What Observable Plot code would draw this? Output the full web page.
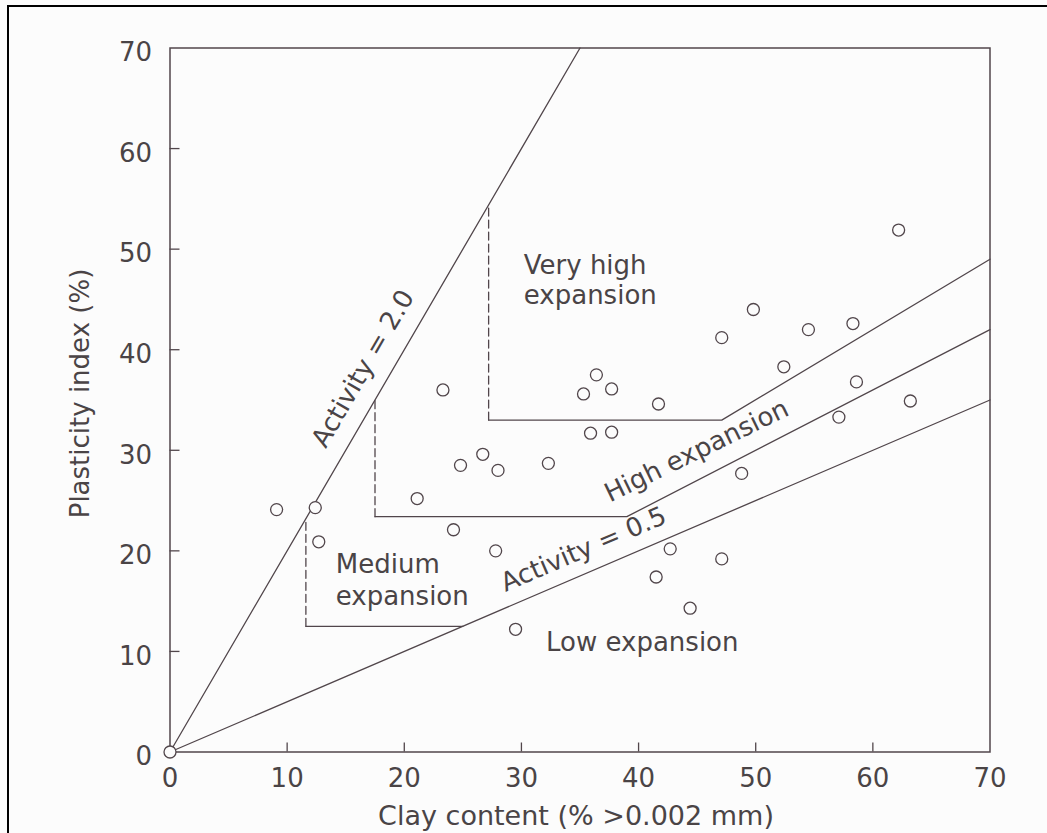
<!DOCTYPE html>
<html>
<head>
<meta charset="utf-8">
<script src="https://cdn.jsdelivr.net/npm/d3@7"></script>
<script src="https://cdn.jsdelivr.net/npm/@observablehq/plot@0.6"></script>
<style>
  html, body { margin: 0; padding: 0; background: #fcfcfc; overflow: hidden; width: 1047px; height: 833px; }
  #page { position: relative; width: 1047px; height: 833px; }
  #chart { position: absolute; left: 0; top: 0; }
  #border { position: absolute; left: 7px; top: 5px; width: 1200px; height: 1000px; border: 2.5px solid #000; pointer-events: none; }
</style>
</head>
<body>
<div id="page"><div id="chart"></div><div id="border"></div></div>
<script>
// Clay content (% finer than 0.002 mm) and plasticity index (%) of the samples
const clay = [0, 9.1, 12.4, 12.7, 21.1, 23.3, 24.2, 24.8, 26.7, 27.8, 28.0, 29.5, 32.3,
  35.3, 35.9, 36.4, 37.7, 37.7, 41.5, 41.7, 42.7, 44.4, 47.1, 47.1, 48.8, 49.8,
  52.4, 54.5, 57.1, 58.3, 58.6, 62.2, 63.2];
const plasticity = [0, 24.1, 24.3, 20.9, 25.2, 36.0, 22.1, 28.5, 29.6, 20.0, 28.0, 12.2, 28.7,
  35.6, 31.7, 37.5, 36.1, 31.8, 17.4, 34.6, 20.2, 14.3, 41.2, 19.2, 27.7, 44.0,
  38.3, 42.0, 33.3, 42.6, 36.8, 51.9, 34.9];

// Activity lines (PI / clay fraction)
const activity2 = [[0, 0], [35, 70]];
const activity05 = [[0, 0], [70, 35]];

// Expansion class boundaries: solid lower edges and dashed left edges
const lowMediumEdge = [[11.6, 12.5], [25, 12.5]];
const lowMediumDash = [[11.6, 12.5], [11.6, 23]];
const mediumHighEdge = [[17.5, 23.4], [39, 23.4], [70, 42]];
const mediumHighDash = [[17.5, 23.4], [17.5, 35]];
const highVeryHighEdge = [[27.2, 33], [47.1, 33], [70, 49]];
const highVeryHighDash = [[27.2, 33], [27.2, 54.4]];

const xTicks = [0, 10, 20, 30, 40, 50, 60, 70];
const yTicks = [0, 10, 20, 30, 40, 50, 60, 70];
const xTitle = "Clay content (% >0.002 mm)";
const yTitle = "Plasticity index (%)";

// Zone and line annotations: [label, clay, PI, line height or angle]
const zoneLabels = [
  ["Very high\nexpansion", 30.2, 44.5, 1.19],
  ["Medium\nexpansion", 14.15, 14.66, 1.22],
  ["Low expansion", 32.1, 10.06, 1]
];
const lineLabels = [
  ["Activity = 2.0", 16.49, 38.12, -59.8],
  ["Activity = 0.5", 35.31, 20.14, -23.2],
  ["High expansion", 44.96, 29.93, -26]
];

const W = 1047, H = 833;
const margin = {left: 169.5, right: 57.5, top: 47.5, bottom: 81.5};
const innerW = W - margin.left - margin.right;
const innerH = H - margin.top - margin.bottom;
const xDomain = [0, 70], yDomain = [0, 70];

// inward tick lengths (px) expressed in data units
const xTickLen = 9 * (yDomain[1] - yDomain[0]) / innerH;
const yTickLen = 10 * (xDomain[1] - xDomain[0]) / innerW;

const ink = "#51464b";
const textInk = "#4a4446";
const paper = "#fcfcfc";
const fontSize = 26;

const pts = (a) => a.map(([x, y]) => ({x, y}));
const samples = clay.map((c, i) => ({clay: c, pi: plasticity[i]}));
const zones = zoneLabels.map(([text, x, y, lh]) => ({text, x, y, lh}));
const tags = lineLabels.map(([text, x, y, angle]) => ({text, x, y, angle}));

const solid = {x: "x", y: "y", stroke: ink, strokeWidth: 1.3};
const dashed = {...solid, strokeDasharray: "8,4"};

const chart = Plot.plot({
  width: W,
  height: H,
  marginLeft: margin.left,
  marginRight: margin.right,
  marginTop: margin.top,
  marginBottom: margin.bottom,
  style: {fontFamily: "DejaVu Sans", background: "transparent", color: textInk},
  x: {domain: xDomain},
  y: {domain: yDomain},
  marks: [
    Plot.frame({stroke: ink, strokeWidth: 1.5}),
    // tick labels
    Plot.axisX({ticks: xTicks, tickSize: 0, tickPadding: 16.4, fontSize, fill: textInk, label: null}),
    Plot.axisY({ticks: yTicks, tickSize: 0, tickPadding: 18, dy: 5, fontSize, fill: textInk, label: null}),
    // inward-pointing ticks along the bottom and left edges
    Plot.ruleX(xTicks.filter(t => t > xDomain[0] && t < xDomain[1]), {x: d => d, y1: yDomain[0], y2: yDomain[0] + xTickLen, stroke: ink, strokeWidth: 1.3}),
    Plot.ruleY(yTicks.filter(t => t > yDomain[0] && t < yDomain[1]), {y: d => d, x1: xDomain[0], x2: xDomain[0] + yTickLen, stroke: ink, strokeWidth: 1.3}),
    // activity lines
    Plot.line(pts(activity2), solid),
    Plot.line(pts(activity05), solid),
    // class boundaries
    Plot.line(pts(lowMediumEdge), solid),
    Plot.line(pts(lowMediumDash), dashed),
    Plot.line(pts(mediumHighEdge), solid),
    Plot.line(pts(mediumHighDash), dashed),
    Plot.line(pts(highVeryHighEdge), solid),
    Plot.line(pts(highVeryHighDash), dashed),
    // samples
    Plot.dot(samples, {x: "clay", y: "pi", r: 6, stroke: ink, strokeWidth: 1.3, fill: paper}),
    // zone names
    ...zones.map(z => Plot.text([z], {x: "x", y: "y", text: "text", textAnchor: "start", lineAnchor: "bottom", lineHeight: z.lh, fontSize, fill: textInk})),
    // labels along the lines
    ...tags.map(t => Plot.text([t], {x: "x", y: "y", text: "text", rotate: t.angle, textAnchor: "middle", lineAnchor: "middle", fontSize, fill: textInk})),
    // axis titles
    Plot.text([xTitle], {text: d => d, frameAnchor: "bottom", dx: -4, dy: 73, lineAnchor: "bottom", textAnchor: "middle", fontSize: 27, fill: textInk}),
    Plot.text([yTitle], {text: d => d, frameAnchor: "left", rotate: -90, dx: -81.5, dy: -6.5, lineAnchor: "bottom", textAnchor: "middle", fontSize, fill: textInk})
  ]
});

document.getElementById("chart").appendChild(chart);
</script>
</body>
</html>
